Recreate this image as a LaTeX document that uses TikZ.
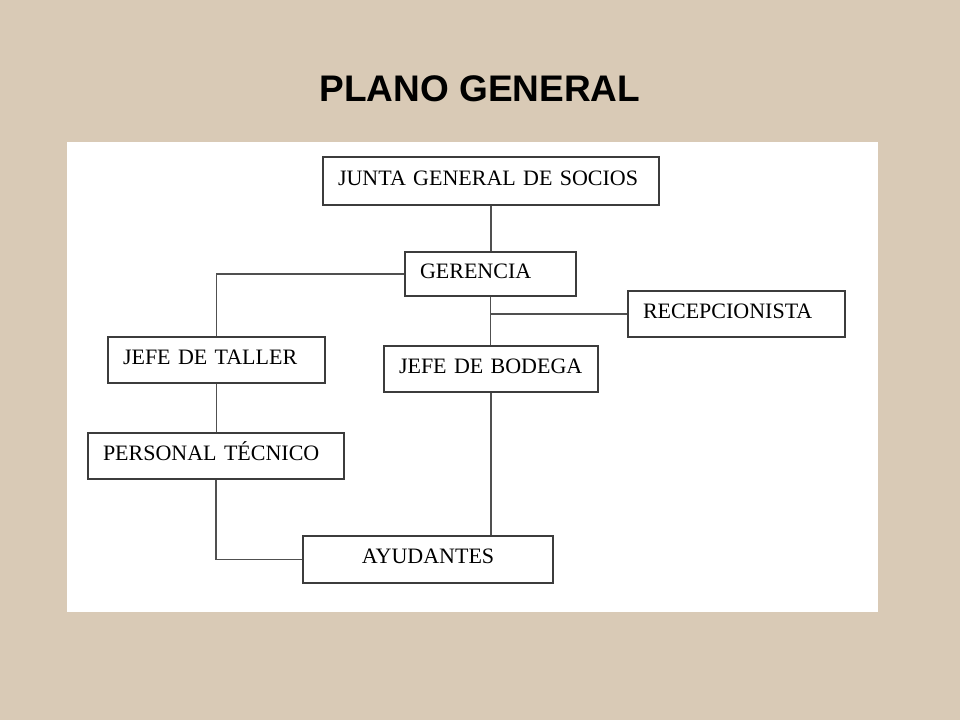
\documentclass[tikz,border=0pt]{standalone}
\usepackage{fontspec}
\setmainfont[WordSpace=0.75]{Liberation Serif}
\newfontfamily\titlefont{Liberation Sans}
\usepackage{tikz}
\usetikzlibrary{positioning}
\usepackage{xcolor}
\definecolor{paper}{RGB}{217,202,182}
\definecolor{edge}{RGB}{60,60,60}

\tikzset{
    orgbox/.style = {draw = edge, line width = 1.1pt, rectangle, inner xsep = 15pt, inner ysep = 0pt,
        align = left, text height = 15pt, text depth = 7pt, font = \fontsize{22}{24}\selectfont},
    link/.style = {draw = edge!90, line width = 1.3pt}
}

\begin{document}
\begin{tikzpicture}[x = 1pt, y = -1pt]
        \useasboundingbox (0,0) rectangle (960,720);
        \fill[paper] (0,0) rectangle (960,720);
        \fill[white] (67,142) rectangle (878,612);
        \node[font = \titlefont\bfseries\fontsize{37}{40}\selectfont] (title) at (480,89) {PLANO GENERAL};
        % boxes
        \node[orgbox, minimum width = 336pt, minimum height = 48pt, text width = 306pt] (junta) at (491,181) {JUNTA GENERAL DE SOCIOS};
        \node[orgbox, minimum width = 171pt, minimum height = 44pt, text width = 141pt] (gerencia) at (490.5,274) {GERENCIA};
        \node[orgbox, minimum width = 217pt, minimum height = 46pt, text width = 187pt] (recep) at (736.5,314) {RECEPCIONISTA};
        \node[orgbox, minimum width = 217pt, minimum height = 46pt, text width = 187pt] (taller) at (216.5,360) {JEFE DE TALLER};
        \node[orgbox, minimum width = 214pt, minimum height = 46pt, text width = 184pt] (bodega) at (491,369) {JEFE DE BODEGA};
        \node[orgbox, minimum width = 256pt, minimum height = 46pt, text width = 226pt] (personal) at (216,456) {PERSONAL TÉCNICO};
        \node[orgbox, minimum width = 250pt, minimum height = 47pt, text width = 220pt, align = center] (ayudantes) at (428,559.5) {AYUDANTES};
        % connectors
        \coordinate (branch) at (gerencia.south |- recep.west);
        \draw[link] (junta.south) -- (junta.south |- gerencia.north);
        \draw[link] (gerencia.west) -| (taller.north);
        \draw[link] (gerencia.south) -- (gerencia.south |- bodega.north);
        \draw[link] (branch) -- (recep.west);
        \draw[link] (bodega.south) -- (bodega.south |- ayudantes.north);
        \draw[link] (taller.south) -- (taller.south |- personal.north);
        \draw[link] (personal.south) |- (ayudantes.west);
    \end{tikzpicture}
\end{document}
